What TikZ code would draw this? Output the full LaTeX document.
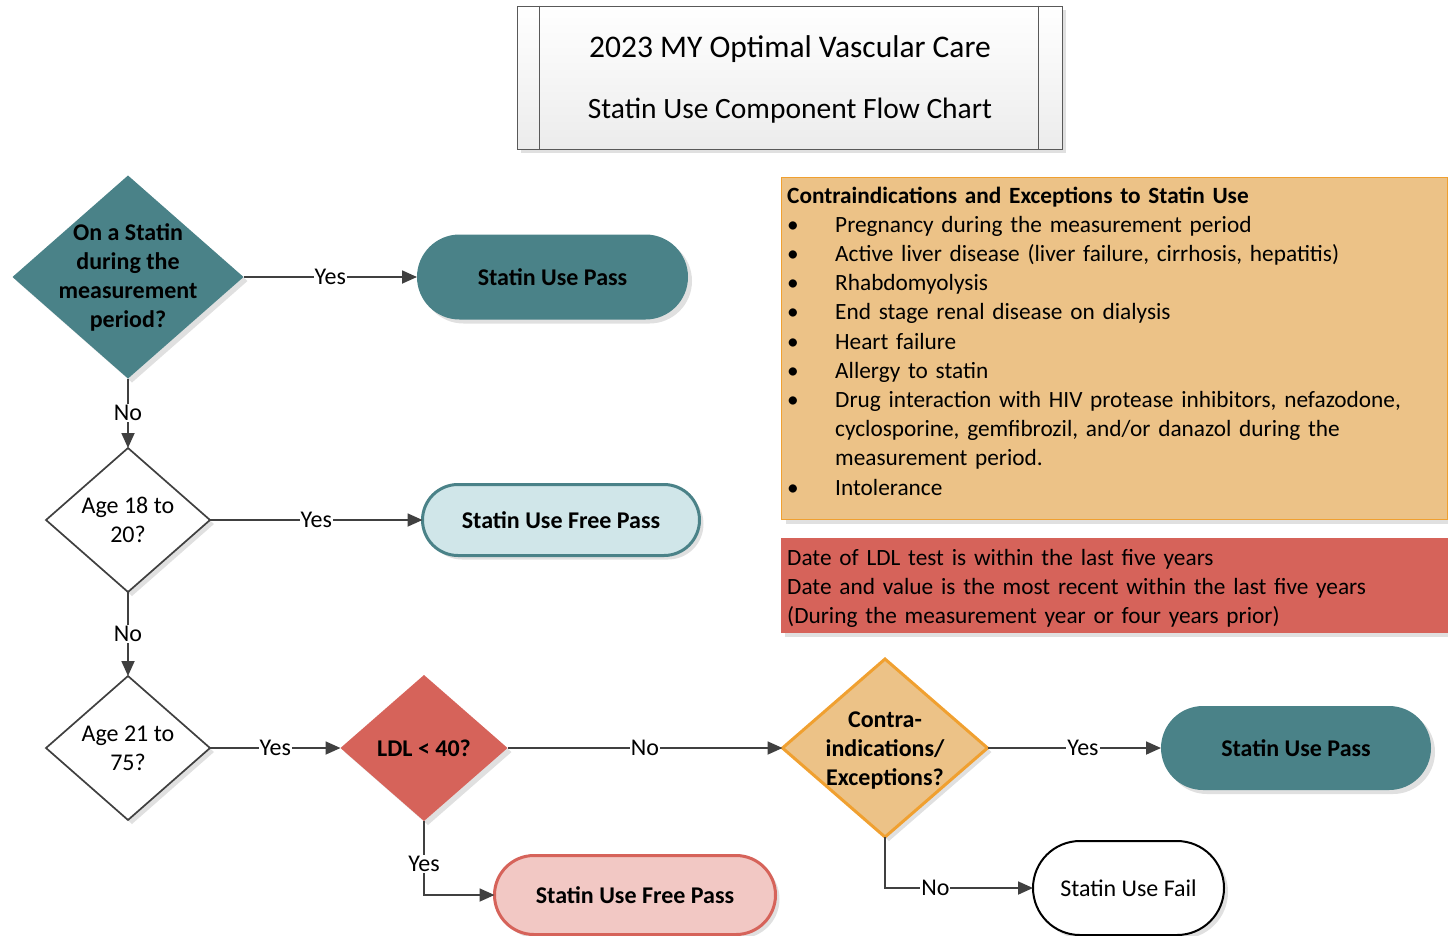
\documentclass[tikz,border=0pt]{standalone}
\usepackage{fontspec}
\setmainfont{Carlito}
\usetikzlibrary{shapes.geometric,shapes.misc,arrows.meta,shadows}
\definecolor{teal1}{HTML}{4A8288}
\definecolor{lblue}{HTML}{D0E6E9}
\definecolor{ldlred}{HTML}{D6635A}
\definecolor{lpink}{HTML}{F2C8C4}
\definecolor{tan1}{HTML}{ECC287}
\definecolor{orng}{HTML}{F0A030}
\definecolor{lgray}{HTML}{404040}
\begin{document}
\begin{tikzpicture}[x=1pt,y=-1pt,
  shd/.style={drop shadow={shadow xshift=4pt,shadow yshift=-4pt,fill=black!30,opacity=0.4}},
  conn/.style={draw=lgray,line width=1.8pt,-{Triangle[length=15pt,width=13pt]}},
  lab/.style={fill=white,inner sep=1pt,text=black,font=\fontsize{24}{28}\selectfont},
  dia/.style={diamond,inner sep=0pt,outer sep=0pt,shd},
  dtxtb/.style={align=center,inner sep=0pt,font=\bfseries\fontsize{24}{29}\selectfont},
  dtxt/.style={align=center,inner sep=0pt,font=\fontsize{24}{29}\selectfont},
  pill/.style={rounded rectangle,inner sep=0pt,outer sep=0pt,shd,font=\bfseries\fontsize{24}{28}\selectfont},
  info/.style={anchor=base west,inner sep=0pt,text width=655pt,align=left,font=\fontsize{23.3}{29.2}\selectfont}
]
\useasboundingbox (0,0) rectangle (1448,935);

% title
\node[draw=gray!70!black,line width=0.8pt,top color=white,bottom color=gray!15,
      minimum width=545pt,minimum height=143pt,inner sep=0pt,shd] (title) at (789.5,77.5) {};
\draw[gray!70!black,line width=0.8pt] ([xshift=23pt]title.north west) -- ([xshift=23pt]title.south west);
\draw[gray!70!black,line width=0.8pt] ([xshift=-24pt]title.north east) -- ([xshift=-24pt]title.south east);
\node[font=\fontsize{31.5}{36}\selectfont,inner sep=0pt] (t1) at (790,49) {2023 MY Optimal Vascular Care};
\node[font=\fontsize{29.5}{34}\selectfont,inner sep=0pt] (t2) at (790,111) {Statin Use Component Flow Chart};

% info boxes
\node[draw=orng,fill=tan1,line width=1pt,minimum width=666pt,minimum height=342pt,
      anchor=north west,inner sep=0pt,shd] (cbox) at (781,177) {};
\node[info] (ctext) at (787,203) {\textbf{Contraindications and Exceptions to Statin Use}\\
\makebox[48pt][l]{\textbullet}Pregnancy during the measurement period\\
\makebox[48pt][l]{\textbullet}Active liver disease (liver failure, cirrhosis, hepatitis)\\
\makebox[48pt][l]{\textbullet}Rhabdomyolysis\\
\makebox[48pt][l]{\textbullet}End stage renal disease on dialysis\\
\makebox[48pt][l]{\textbullet}Heart failure\\
\makebox[48pt][l]{\textbullet}Allergy to statin\\
\makebox[48pt][l]{\textbullet}Drug interaction with HIV protease inhibitors, nefazodone,\\
\makebox[48pt][l]{}cyclosporine, gemfibrozil, and/or danazol during the\\
\makebox[48pt][l]{}measurement period.\\
\makebox[48pt][l]{\textbullet}Intolerance};

\node[fill=ldlred,minimum width=667pt,minimum height=95pt,anchor=north west,inner sep=0pt,shd] (rbox) at (781,538) {};
\node[info] (rtext) at (787,565) {Date of LDL test is within the last five years\\
Date and value is the most recent within the last five years\\
(During the measurement year or four years prior)};

% diamonds
\node[dia,fill=teal1,minimum width=231pt,minimum height=203pt] (d1) at (128,277) {};
\node[dtxtb] (d1t) at (d1.center) {On a Statin\\during the\\measurement\\period?};
\node[dia,fill=white,draw=lgray,line width=1.7pt,minimum width=164pt,minimum height=144pt] (d2) at (128,520) {};
\node[dtxt] (d2t) at (d2.center) {Age 18 to\\20?};
\node[dia,fill=white,draw=lgray,line width=1.7pt,minimum width=164pt,minimum height=144pt] (d3) at (128,748) {};
\node[dtxt] (d3t) at (d3.center) {Age 21 to\\75?};
\node[dia,fill=ldlred,minimum width=167pt,minimum height=146pt] (dl) at (424,748) {};
\node[dtxtb] (dlt) at (dl.center) {LDL < 40?};
\node[dia,fill=tan1,draw=orng,line width=3pt,minimum width=205pt,minimum height=178pt] (dc) at (885,748) {};
\node[dtxtb] (dct) at ([yshift=-3pt]dc.center) {Contra-\\indications/\\Exceptions?};

% terminals
\node[pill,fill=teal1,minimum width=271pt,minimum height=85pt] (p1) at (552.5,277) {Statin Use Pass};
\node[pill,fill=lblue,draw=teal1,line width=3pt,minimum width=277pt,minimum height=71pt] (p2) at (561,520) {Statin Use Free Pass};
\node[pill,fill=lpink,draw=ldlred,line width=3pt,minimum width=281pt,minimum height=79pt] (p3) at (635,895) {Statin Use Free Pass};
\node[pill,fill=teal1,minimum width=270pt,minimum height=84pt] (p4) at (1296,748) {Statin Use Pass};
\node[pill,fill=white,draw=black,line width=2pt,minimum width=191pt,minimum height=94pt,font=\fontsize{24}{28}\selectfont] (p5) at (1128.5,888) {Statin Use Fail};

% connectors
\draw[conn] (d1.east) -- node[lab] {Yes} (p1.west);
\draw[conn] (d1.south) -- node[lab] {No} (d2.north);
\draw[conn] (d2.east) -- node[lab] {Yes} (p2.west);
\draw[conn] (d2.south) -- node[lab] {No} (d3.north);
\draw[conn] (d3.east) -- node[lab] {Yes} (dl.west);
\draw[conn] (dl.east) -- node[lab] {No} (dc.west);
\draw[conn] (dl.south) |- node[lab,pos=0.29] {Yes} (p3.west);
\draw[conn] (dc.east) -- node[lab,pos=0.55] {Yes} (p4.west);
\draw[conn] (dc.south) |- node[lab,pos=0.67] {No} (p5.west);
\end{tikzpicture}
\end{document}
